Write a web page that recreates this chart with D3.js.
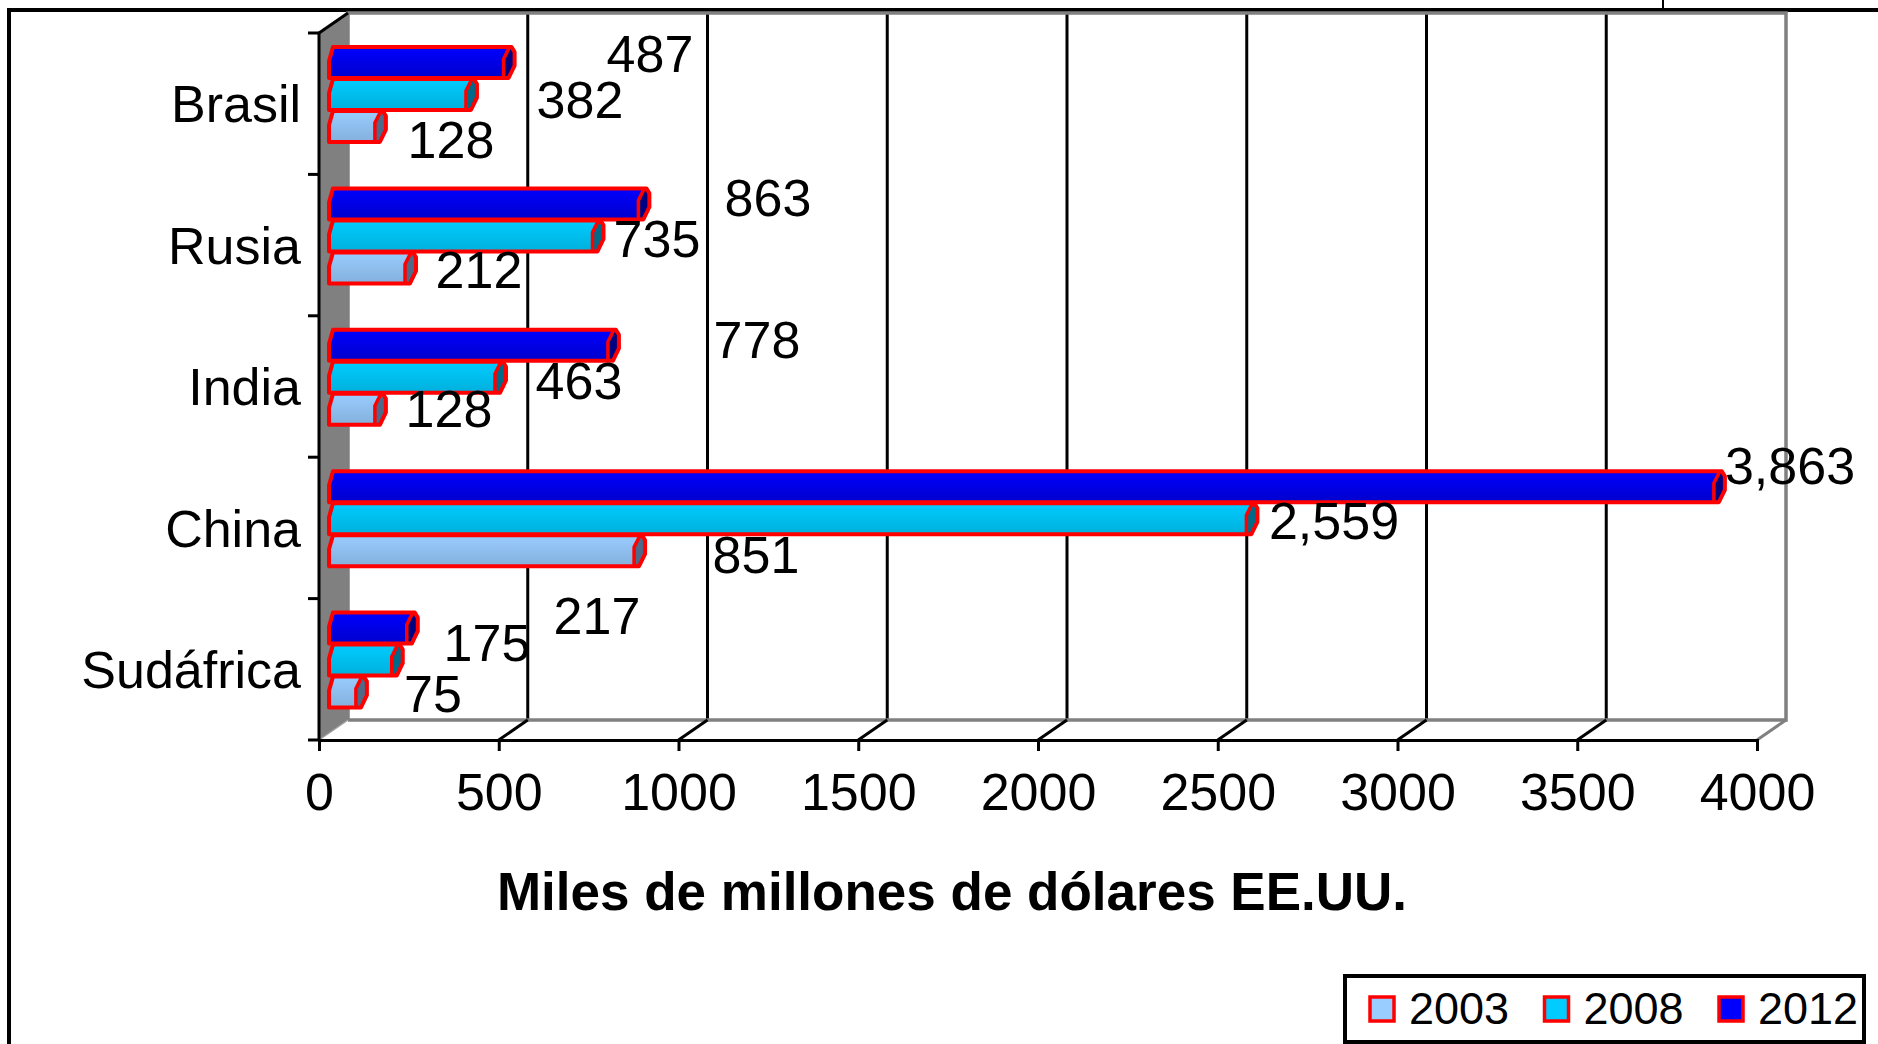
<!DOCTYPE html>
<html lang="es">

<head>
  <meta charset="utf-8">
  <title>Miles de millones de dólares EE.UU.</title>
  <script src="https://cdnjs.cloudflare.com/ajax/libs/d3/7.8.5/d3.min.js"></script>
  <style type="text/css">
    body { margin: 0; background: #fff; }
    svg { display: block; }
    text { font-family: "Liberation Sans", Arial, sans-serif; fill: #000; }
  </style>
</head>

<body>
  <script>
    var w = 1878;
    var h = 1044;

    // Data
    var categories = ['Brasil', 'Rusia', 'India', 'China', 'Sudáfrica'];
    var years = ['2003', '2008', '2012'];
    var values2003 = [128, 212, 128, 851, 75];
    var values2008 = [382, 735, 463, 2559, 175];
    var values2012 = [487, 863, 778, 3863, 217];
    var xTicks = [0, 500, 1000, 1500, 2000, 2500, 3000, 3500, 4000];

    var seriesValues = [values2003, values2008, values2012];

    // Label placement in the original does not follow the bars, centre x / baseline per bar
    var labelPos = {
      '2003': [[451, 158], [479, 288], [449, 427], [756, 573], [433, 712]],
      '2008': [[580, 118], [657, 257], [579, 399], [1334, 539], [487, 661]],
      '2012': [[650, 72], [768, 216], [757, 358], [1790, 484], [597, 634]]
    };

    var colors = {
      '2003': { top: '#99ccff', bottom: '#84b0dc', cap: '#4f6a88' },
      '2008': { top: '#00ccff', bottom: '#00b0dc', cap: '#006a88' },
      '2012': { top: '#0000ff', bottom: '#0000cc', cap: '#000080' }
    };

    var depthX = 29;
    var depthY = -20;
    var axisY = 740;
    var axisTop = 33;

    var svg = d3.select('body')
      .append('svg')
      .attr('width', w)
      .attr('height', h);

    // Scales
    var xScale = d3.scaleLinear().domain([0, 4000]).range([319, 1757]);
    // bars stand in the middle of the floor depth, so they sit on their own range
    var barScale = d3.scaleLinear().domain([0, 4000]).range([329, 1763]);
    var yScale = d3.scaleBand().domain(categories).range([axisTop, axisY]);
    var barBand = d3.scaleBand().domain(['2012', '2008', '2003']).range([14, 110]);

    // Gradients
    var defs = svg.append('defs');
    years.forEach(function (year) {
      var g = defs.append('linearGradient')
        .attr('id', 'grad' + year)
        .attr('x1', 0).attr('y1', 0).attr('x2', 0).attr('y2', 1);
      g.append('stop').attr('offset', '0%').attr('stop-color', colors[year].top);
      g.append('stop').attr('offset', '100%').attr('stop-color', colors[year].bottom);
    });

    // Page frame
    svg.append('line').attr('x1', 7).attr('x2', w).attr('y1', 10).attr('y2', 10)
      .attr('stroke', '#000').attr('stroke-width', 4);
    svg.append('line').attr('x1', 9).attr('x2', 9).attr('y1', 8).attr('y2', h)
      .attr('stroke', '#000').attr('stroke-width', 4);
    svg.append('line').attr('x1', 1663).attr('x2', 1663).attr('y1', 0).attr('y2', 10)
      .attr('stroke', '#000').attr('stroke-width', 2);

    // Back wall
    var backLeft = xScale(0) + depthX;
    var backRight = xScale(4000) + depthX;
    var backTop = axisTop + depthY;
    var backBottom = axisY + depthY;

    // Gridlines on the back wall
    svg.selectAll('.grid')
      .data(xTicks.slice(1, -1))
      .enter()
      .append('line')
      .attr('class', 'grid')
      .attr('x1', d => xScale(d) + depthX)
      .attr('x2', d => xScale(d) + depthX)
      .attr('y1', backTop)
      .attr('y2', backBottom)
      .attr('stroke', '#000')
      .attr('stroke-width', 3);

    svg.append('path')
      .attr('d', d3.line()([[backLeft, backBottom], [backLeft, backTop], [backRight, backTop], [backRight, backBottom], [backLeft, backBottom]]))
      .attr('fill', 'none')
      .attr('stroke', '#808080')
      .attr('stroke-width', 3.5);

    // Left side wall
    svg.append('path')
      .attr('d', d3.line()([[xScale(0), axisTop], [backLeft, backTop], [backLeft, backBottom], [xScale(0), axisY]]) + 'Z')
      .attr('fill', '#808080')
      .attr('stroke', 'none');
    svg.append('line')
      .attr('x1', xScale(0)).attr('x2', backLeft)
      .attr('y1', axisTop).attr('y2', backTop)
      .attr('stroke', '#000').attr('stroke-width', 3);

    // Floor lines
    svg.selectAll('.floor')
      .data(xTicks)
      .enter()
      .append('line')
      .attr('class', 'floor')
      .attr('x1', d => xScale(d))
      .attr('x2', d => xScale(d) + depthX)
      .attr('y1', axisY)
      .attr('y2', backBottom)
      .attr('stroke', (d, i) => i === 0 ? '#a0a0a0' : (i === xTicks.length - 1 ? '#808080' : '#000'))
      .attr('stroke-width', d => d === 0 ? 1.5 : 3);

    // Bars, lower ones first so the upper outline stays on top
    function barPath (x0, xe, y, bh) {
      return d3.line()([
        [x0, y + bh], [x0, y + 14], [x0 + 4, y],
        [xe + 8, y], [xe + 11, y + 5], [xe + 11, y + bh * 0.6],
        [xe + 5, y + bh], [x0, y + bh]
      ]) + 'Z';
    }

    function capPath (xe, y, bh) {
      return d3.line()([
        [xe + 6, y], [xe + 11, y + 5], [xe + 11, y + bh * 0.6],
        [xe + 5, y + bh], [xe, y + bh], [xe, y + 12]
      ]) + 'Z';
    }

    var barsG = svg.append('g').attr('class', 'bars');
    categories.forEach(function (cat, c) {
      years.forEach(function (year, s) {
        var xe = barScale(seriesValues[s][c]);
        var y = yScale(cat) + barBand(year);
        var bh = barBand.bandwidth() - 1;
        var x0 = barScale(0);
        barsG.append('path')
          .attr('d', barPath(x0, xe, y, bh))
          .attr('fill', 'url(#grad' + year + ')');
        barsG.append('path')
          .attr('d', capPath(xe, y, bh))
          .attr('fill', colors[year].cap);
        barsG.append('path')
          .attr('d', barPath(x0, xe, y, bh))
          .attr('fill', 'none')
          .attr('stroke', '#ff0000')
          .attr('stroke-width', 4)
          .attr('stroke-linejoin', 'round');
        barsG.append('path')
          .attr('d', d3.line()([[xe + 6, y], [xe, y + 12], [xe, y + bh]]))
          .attr('fill', 'none')
          .attr('stroke', '#ff0000')
          .attr('stroke-width', 3.5);
      });
    });

    // Axes
    var xAxis = d3.axisBottom(xScale)
      .tickValues(xTicks)
      .tickFormat(d3.format('d'))
      .tickSize(11)
      .tickPadding(22);
    var xG = svg.append('g')
      .attr('transform', 'translate(0,' + axisY + ')')
      .call(xAxis);
    xG.select('.domain').attr('stroke-width', 3);
    xG.selectAll('.tick line').attr('stroke-width', 3);
    xG.selectAll('text').style('font-size', '52px');

    var yAxis = d3.axisLeft(yScale).tickSize(0).tickPadding(18);
    var yG = svg.append('g')
      .attr('transform', 'translate(' + xScale(0) + ',0)')
      .call(yAxis);
    yG.select('.domain').remove();
    yG.selectAll('text')
      .attr('y', 2)
      .style('font-size', '52px');

    // Category ticks fall on the band edges
    svg.selectAll('.ytick')
      .data(categories.concat(['end']))
      .enter()
      .append('line')
      .attr('class', 'ytick')
      .attr('x1', xScale(0) - 11)
      .attr('x2', xScale(0))
      .attr('y1', (d, i) => axisTop + i * yScale.step())
      .attr('y2', (d, i) => axisTop + i * yScale.step())
      .attr('stroke', '#000')
      .attr('stroke-width', 3);
    svg.append('line')
      .attr('x1', xScale(0)).attr('x2', xScale(0))
      .attr('y1', axisTop).attr('y2', axisY)
      .attr('stroke', '#000').attr('stroke-width', 3);

    // Data labels
    years.forEach(function (year, s) {
      svg.selectAll('.label' + year)
        .data(seriesValues[s])
        .enter()
        .append('text')
        .attr('class', 'label' + year)
        .attr('x', (d, i) => labelPos[year][i][0])
        .attr('y', (d, i) => labelPos[year][i][1])
        .attr('text-anchor', 'middle')
        .style('font-size', '52px')
        .text(d3.format(','));
    });

    // Axis title
    svg.append('text')
      .attr('x', 952)
      .attr('y', 910)
      .attr('text-anchor', 'middle')
      .style('font-size', '53px')
      .style('font-weight', 'bold')
      .text('Miles de millones de dólares EE.UU.');

    // Legend
    svg.append('rect')
      .attr('x', 1345).attr('y', 976)
      .attr('width', 519).attr('height', 66)
      .attr('fill', '#fff')
      .attr('stroke', '#000')
      .attr('stroke-width', 4);

    var legendX = d3.scalePoint().domain(years).range([1370, 1719]);
    var legend = svg.selectAll('.legend')
      .data(years)
      .enter()
      .append('g')
      .attr('class', 'legend')
      .attr('transform', d => 'translate(' + legendX(d) + ',997)');
    legend.append('rect')
      .attr('width', 24)
      .attr('height', 24)
      .attr('fill', d => colors[d].top)
      .attr('stroke', '#ff0000')
      .attr('stroke-width', 3.5);
    legend.append('text')
      .attr('x', 39)
      .attr('y', 27)
      .style('font-size', '45px')
      .text(d => d);
  </script>
</body>

</html>
